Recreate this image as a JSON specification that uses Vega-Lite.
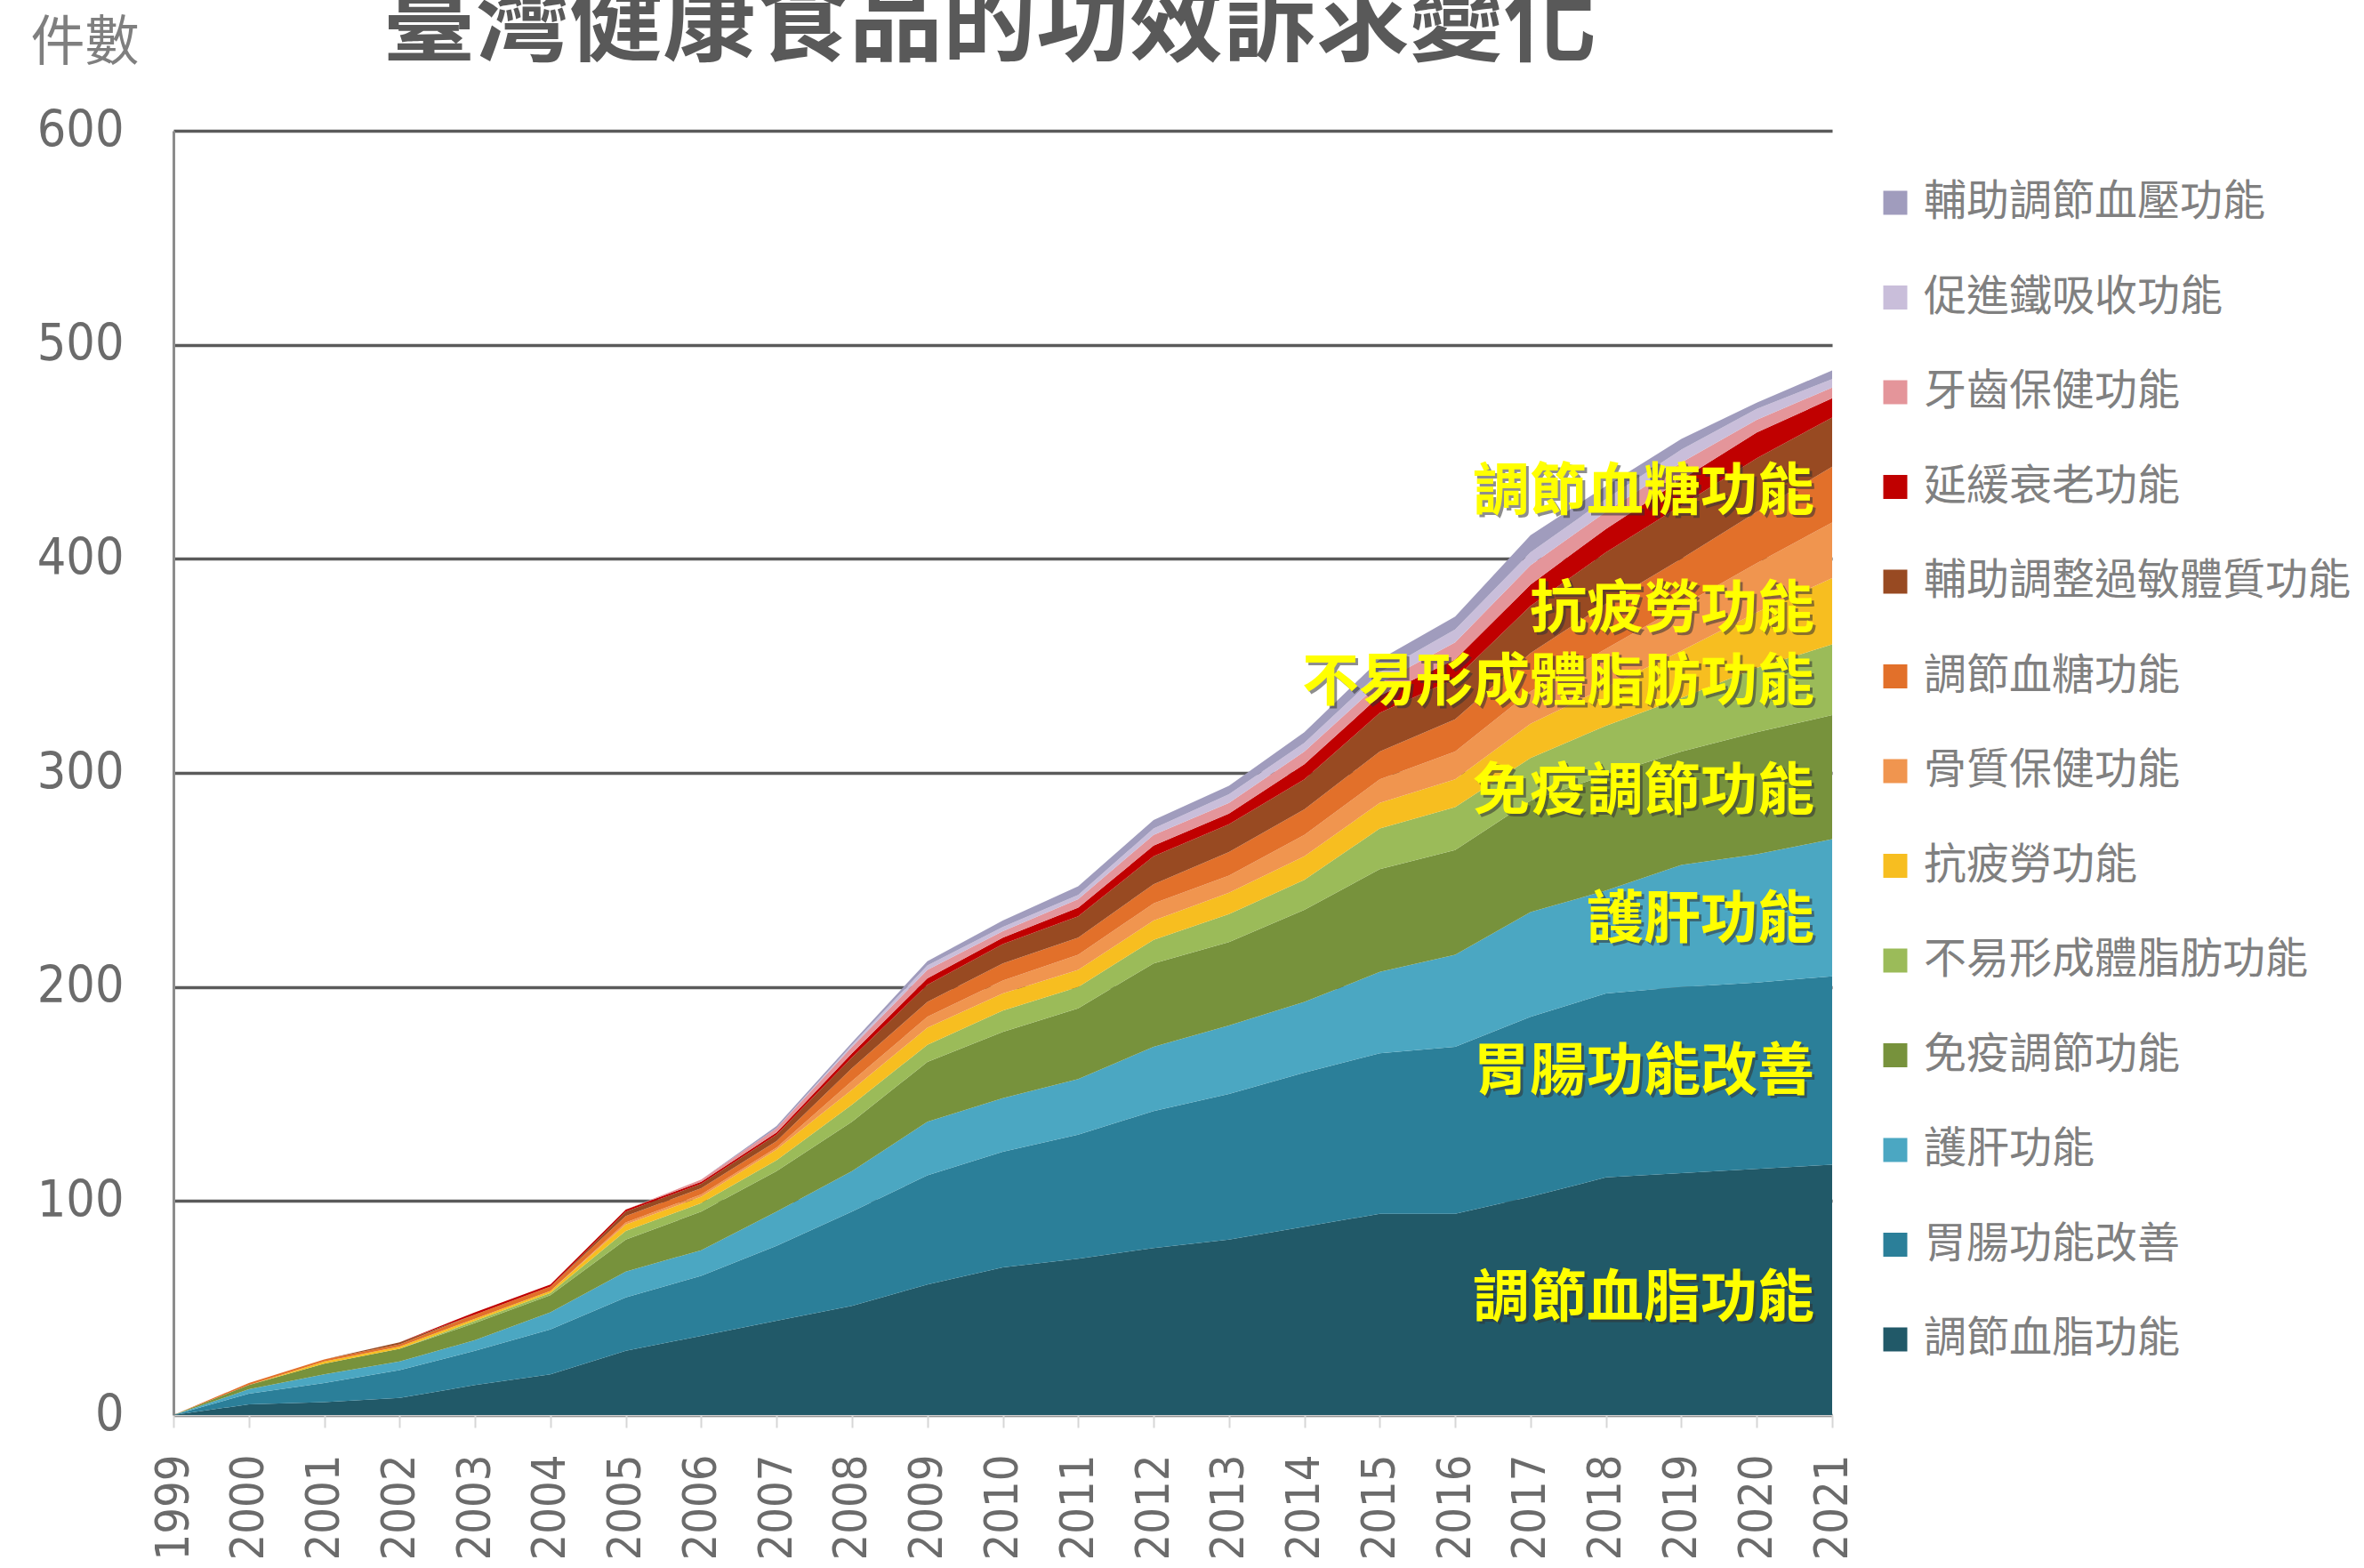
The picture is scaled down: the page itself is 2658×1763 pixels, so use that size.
{
  "$schema": "https://vega.github.io/schema/vega-lite/v6.json",
  "width": 1865,
  "height": 1444,
  "autosize": {"type": "none"},
  "padding": {"left": 195, "top": 147, "right": 598, "bottom": 172},
  "background": "white",
  "title": {
    "text": "臺灣健康食品的功效訴求變化",
    "font": "Noto Sans CJK TC",
    "fontSize": 105,
    "fontWeight": "bold",
    "color": "#595959",
    "anchor": "middle",
    "frame": "group",
    "offset": -64,
    "dx": -15
  },
  "datasets": {
    "kinds": [
      {"series":"調節血脂功能","rank":1},{"series":"胃腸功能改善","rank":2},{"series":"護肝功能","rank":3},{"series":"免疫調節功能","rank":4},{"series":"不易形成體脂肪功能","rank":5},{"series":"抗疲勞功能","rank":6},{"series":"骨質保健功能","rank":7},{"series":"調節血糖功能","rank":8},{"series":"輔助調整過敏體質功能","rank":9},{"series":"延緩衰老功能","rank":10},{"series":"牙齒保健功能","rank":11},{"series":"促進鐵吸收功能","rank":12},{"series":"輔助調節血壓功能","rank":13}
    ],
    "counts": [
      {"year":1999,"series":"調節血脂功能","value":0},{"year":1999,"series":"胃腸功能改善","value":0},{"year":1999,"series":"護肝功能","value":0},{"year":1999,"series":"免疫調節功能","value":0},{"year":1999,"series":"不易形成體脂肪功能","value":0},{"year":1999,"series":"抗疲勞功能","value":0},{"year":1999,"series":"骨質保健功能","value":0},{"year":1999,"series":"調節血糖功能","value":0},{"year":1999,"series":"輔助調整過敏體質功能","value":0},{"year":1999,"series":"延緩衰老功能","value":0},{"year":1999,"series":"牙齒保健功能","value":0},{"year":1999,"series":"促進鐵吸收功能","value":0},{"year":1999,"series":"輔助調節血壓功能","value":0},
      {"year":2000,"series":"調節血脂功能","value":5},{"year":2000,"series":"胃腸功能改善","value":5},{"year":2000,"series":"護肝功能","value":2},{"year":2000,"series":"免疫調節功能","value":2},{"year":2000,"series":"不易形成體脂肪功能","value":0},{"year":2000,"series":"抗疲勞功能","value":0},{"year":2000,"series":"骨質保健功能","value":0},{"year":2000,"series":"調節血糖功能","value":1},{"year":2000,"series":"輔助調整過敏體質功能","value":0},{"year":2000,"series":"延緩衰老功能","value":0},{"year":2000,"series":"牙齒保健功能","value":0},{"year":2000,"series":"促進鐵吸收功能","value":0},{"year":2000,"series":"輔助調節血壓功能","value":0},
      {"year":2001,"series":"調節血脂功能","value":6},{"year":2001,"series":"胃腸功能改善","value":9},{"year":2001,"series":"護肝功能","value":4},{"year":2001,"series":"免疫調節功能","value":5},{"year":2001,"series":"不易形成體脂肪功能","value":0},{"year":2001,"series":"抗疲勞功能","value":1},{"year":2001,"series":"骨質保健功能","value":0},{"year":2001,"series":"調節血糖功能","value":1},{"year":2001,"series":"輔助調整過敏體質功能","value":0},{"year":2001,"series":"延緩衰老功能","value":0},{"year":2001,"series":"牙齒保健功能","value":0},{"year":2001,"series":"促進鐵吸收功能","value":0},{"year":2001,"series":"輔助調節血壓功能","value":0},
      {"year":2002,"series":"調節血脂功能","value":8},{"year":2002,"series":"胃腸功能改善","value":13},{"year":2002,"series":"護肝功能","value":4},{"year":2002,"series":"免疫調節功能","value":6},{"year":2002,"series":"不易形成體脂肪功能","value":0},{"year":2002,"series":"抗疲勞功能","value":1},{"year":2002,"series":"骨質保健功能","value":0},{"year":2002,"series":"調節血糖功能","value":1},{"year":2002,"series":"輔助調整過敏體質功能","value":1},{"year":2002,"series":"延緩衰老功能","value":0},{"year":2002,"series":"牙齒保健功能","value":0},{"year":2002,"series":"促進鐵吸收功能","value":0},{"year":2002,"series":"輔助調節血壓功能","value":0},
      {"year":2003,"series":"調節血脂功能","value":14},{"year":2003,"series":"胃腸功能改善","value":16},{"year":2003,"series":"護肝功能","value":5},{"year":2003,"series":"免疫調節功能","value":8},{"year":2003,"series":"不易形成體脂肪功能","value":1},{"year":2003,"series":"抗疲勞功能","value":1},{"year":2003,"series":"骨質保健功能","value":0},{"year":2003,"series":"調節血糖功能","value":2},{"year":2003,"series":"輔助調整過敏體質功能","value":0},{"year":2003,"series":"延緩衰老功能","value":1},{"year":2003,"series":"牙齒保健功能","value":0},{"year":2003,"series":"促進鐵吸收功能","value":0},{"year":2003,"series":"輔助調節血壓功能","value":0},
      {"year":2004,"series":"調節血脂功能","value":19},{"year":2004,"series":"胃腸功能改善","value":21},{"year":2004,"series":"護肝功能","value":8},{"year":2004,"series":"免疫調節功能","value":8},{"year":2004,"series":"不易形成體脂肪功能","value":1},{"year":2004,"series":"抗疲勞功能","value":1},{"year":2004,"series":"骨質保健功能","value":0},{"year":2004,"series":"調節血糖功能","value":2},{"year":2004,"series":"輔助調整過敏體質功能","value":0},{"year":2004,"series":"延緩衰老功能","value":1},{"year":2004,"series":"牙齒保健功能","value":0},{"year":2004,"series":"促進鐵吸收功能","value":0},{"year":2004,"series":"輔助調節血壓功能","value":0},
      {"year":2005,"series":"調節血脂功能","value":30},{"year":2005,"series":"胃腸功能改善","value":25},{"year":2005,"series":"護肝功能","value":12},{"year":2005,"series":"免疫調節功能","value":15},{"year":2005,"series":"不易形成體脂肪功能","value":4},{"year":2005,"series":"抗疲勞功能","value":3},{"year":2005,"series":"骨質保健功能","value":1},{"year":2005,"series":"調節血糖功能","value":3},{"year":2005,"series":"輔助調整過敏體質功能","value":2},{"year":2005,"series":"延緩衰老功能","value":1},{"year":2005,"series":"牙齒保健功能","value":0},{"year":2005,"series":"促進鐵吸收功能","value":0},{"year":2005,"series":"輔助調節血壓功能","value":0},
      {"year":2006,"series":"調節血脂功能","value":37},{"year":2006,"series":"胃腸功能改善","value":28},{"year":2006,"series":"護肝功能","value":12},{"year":2006,"series":"免疫調節功能","value":18},{"year":2006,"series":"不易形成體脂肪功能","value":4},{"year":2006,"series":"抗疲勞功能","value":3},{"year":2006,"series":"骨質保健功能","value":1},{"year":2006,"series":"調節血糖功能","value":3},{"year":2006,"series":"輔助調整過敏體質功能","value":2},{"year":2006,"series":"延緩衰老功能","value":1},{"year":2006,"series":"牙齒保健功能","value":1},{"year":2006,"series":"促進鐵吸收功能","value":0},{"year":2006,"series":"輔助調節血壓功能","value":0},
      {"year":2007,"series":"調節血脂功能","value":44},{"year":2007,"series":"胃腸功能改善","value":35},{"year":2007,"series":"護肝功能","value":16},{"year":2007,"series":"免疫調節功能","value":19},{"year":2007,"series":"不易形成體脂肪功能","value":5},{"year":2007,"series":"抗疲勞功能","value":5},{"year":2007,"series":"骨質保健功能","value":1},{"year":2007,"series":"調節血糖功能","value":3},{"year":2007,"series":"輔助調整過敏體質功能","value":3},{"year":2007,"series":"延緩衰老功能","value":1},{"year":2007,"series":"牙齒保健功能","value":2},{"year":2007,"series":"促進鐵吸收功能","value":0},{"year":2007,"series":"輔助調節血壓功能","value":1},
      {"year":2008,"series":"調節血脂功能","value":51},{"year":2008,"series":"胃腸功能改善","value":44},{"year":2008,"series":"護肝功能","value":19},{"year":2008,"series":"免疫調節功能","value":23},{"year":2008,"series":"不易形成體脂肪功能","value":8},{"year":2008,"series":"抗疲勞功能","value":7},{"year":2008,"series":"骨質保健功能","value":4},{"year":2008,"series":"調節血糖功能","value":6},{"year":2008,"series":"輔助調整過敏體質功能","value":5},{"year":2008,"series":"延緩衰老功能","value":2},{"year":2008,"series":"牙齒保健功能","value":3},{"year":2008,"series":"促進鐵吸收功能","value":1},{"year":2008,"series":"輔助調節血壓功能","value":1},
      {"year":2009,"series":"調節血脂功能","value":61},{"year":2009,"series":"胃腸功能改善","value":51},{"year":2009,"series":"護肝功能","value":25},{"year":2009,"series":"免疫調節功能","value":28},{"year":2009,"series":"不易形成體脂肪功能","value":8},{"year":2009,"series":"抗疲勞功能","value":8},{"year":2009,"series":"骨質保健功能","value":5},{"year":2009,"series":"調節血糖功能","value":7},{"year":2009,"series":"輔助調整過敏體質功能","value":8},{"year":2009,"series":"延緩衰老功能","value":3},{"year":2009,"series":"牙齒保健功能","value":4},{"year":2009,"series":"促進鐵吸收功能","value":2},{"year":2009,"series":"輔助調節血壓功能","value":2},
      {"year":2010,"series":"調節血脂功能","value":69},{"year":2010,"series":"胃腸功能改善","value":54},{"year":2010,"series":"護肝功能","value":25},{"year":2010,"series":"免疫調節功能","value":31},{"year":2010,"series":"不易形成體脂肪功能","value":10},{"year":2010,"series":"抗疲勞功能","value":8},{"year":2010,"series":"骨質保健功能","value":6},{"year":2010,"series":"調節血糖功能","value":8},{"year":2010,"series":"輔助調整過敏體質功能","value":9},{"year":2010,"series":"延緩衰老功能","value":3},{"year":2010,"series":"牙齒保健功能","value":3},{"year":2010,"series":"促進鐵吸收功能","value":2},{"year":2010,"series":"輔助調節血壓功能","value":3},
      {"year":2011,"series":"調節血脂功能","value":73},{"year":2011,"series":"胃腸功能改善","value":58},{"year":2011,"series":"護肝功能","value":26},{"year":2011,"series":"免疫調節功能","value":33},{"year":2011,"series":"不易形成體脂肪功能","value":10},{"year":2011,"series":"抗疲勞功能","value":8},{"year":2011,"series":"骨質保健功能","value":7},{"year":2011,"series":"調節血糖功能","value":8},{"year":2011,"series":"輔助調整過敏體質功能","value":10},{"year":2011,"series":"延緩衰老功能","value":4},{"year":2011,"series":"牙齒保健功能","value":4},{"year":2011,"series":"促進鐵吸收功能","value":2},{"year":2011,"series":"輔助調節血壓功能","value":4},
      {"year":2012,"series":"調節血脂功能","value":78},{"year":2012,"series":"胃腸功能改善","value":64},{"year":2012,"series":"護肝功能","value":30},{"year":2012,"series":"免疫調節功能","value":39},{"year":2012,"series":"不易形成體脂肪功能","value":11},{"year":2012,"series":"抗疲勞功能","value":9},{"year":2012,"series":"骨質保健功能","value":8},{"year":2012,"series":"調節血糖功能","value":9},{"year":2012,"series":"輔助調整過敏體質功能","value":13},{"year":2012,"series":"延緩衰老功能","value":5},{"year":2012,"series":"牙齒保健功能","value":5},{"year":2012,"series":"促進鐵吸收功能","value":3},{"year":2012,"series":"輔助調節血壓功能","value":4},
      {"year":2013,"series":"調節血脂功能","value":82},{"year":2013,"series":"胃腸功能改善","value":68},{"year":2013,"series":"護肝功能","value":32},{"year":2013,"series":"免疫調節功能","value":39},{"year":2013,"series":"不易形成體脂肪功能","value":13},{"year":2013,"series":"抗疲勞功能","value":10},{"year":2013,"series":"骨質保健功能","value":8},{"year":2013,"series":"調節血糖功能","value":11},{"year":2013,"series":"輔助調整過敏體質功能","value":13},{"year":2013,"series":"延緩衰老功能","value":5},{"year":2013,"series":"牙齒保健功能","value":5},{"year":2013,"series":"促進鐵吸收功能","value":4},{"year":2013,"series":"輔助調節血壓功能","value":4},
      {"year":2014,"series":"調節血脂功能","value":88},{"year":2014,"series":"胃腸功能改善","value":72},{"year":2014,"series":"護肝功能","value":33},{"year":2014,"series":"免疫調節功能","value":43},{"year":2014,"series":"不易形成體脂肪功能","value":14},{"year":2014,"series":"抗疲勞功能","value":11},{"year":2014,"series":"骨質保健功能","value":10},{"year":2014,"series":"調節血糖功能","value":12},{"year":2014,"series":"輔助調整過敏體質功能","value":14},{"year":2014,"series":"延緩衰老功能","value":7},{"year":2014,"series":"牙齒保健功能","value":6},{"year":2014,"series":"促進鐵吸收功能","value":4},{"year":2014,"series":"輔助調節血壓功能","value":5},
      {"year":2015,"series":"調節血脂功能","value":94},{"year":2015,"series":"胃腸功能改善","value":75},{"year":2015,"series":"護肝功能","value":38},{"year":2015,"series":"免疫調節功能","value":48},{"year":2015,"series":"不易形成體脂肪功能","value":19},{"year":2015,"series":"抗疲勞功能","value":12},{"year":2015,"series":"骨質保健功能","value":11},{"year":2015,"series":"調節血糖功能","value":13},{"year":2015,"series":"輔助調整過敏體質功能","value":18},{"year":2015,"series":"延緩衰老功能","value":8},{"year":2015,"series":"牙齒保健功能","value":6},{"year":2015,"series":"促進鐵吸收功能","value":5},{"year":2015,"series":"輔助調節血壓功能","value":6},
      {"year":2016,"series":"調節血脂功能","value":94},{"year":2016,"series":"胃腸功能改善","value":78},{"year":2016,"series":"護肝功能","value":43},{"year":2016,"series":"免疫調節功能","value":49},{"year":2016,"series":"不易形成體脂肪功能","value":20},{"year":2016,"series":"抗疲勞功能","value":13},{"year":2016,"series":"骨質保健功能","value":13},{"year":2016,"series":"調節血糖功能","value":15},{"year":2016,"series":"輔助調整過敏體質功能","value":19},{"year":2016,"series":"延緩衰老功能","value":9},{"year":2016,"series":"牙齒保健功能","value":8},{"year":2016,"series":"促進鐵吸收功能","value":6},{"year":2016,"series":"輔助調節血壓功能","value":6},
      {"year":2017,"series":"調節血脂功能","value":102},{"year":2017,"series":"胃腸功能改善","value":84},{"year":2017,"series":"護肝功能","value":49},{"year":2017,"series":"免疫調節功能","value":52},{"year":2017,"series":"不易形成體脂肪功能","value":20},{"year":2017,"series":"抗疲勞功能","value":16},{"year":2017,"series":"骨質保健功能","value":15},{"year":2017,"series":"調節血糖功能","value":18},{"year":2017,"series":"輔助調整過敏體質功能","value":22},{"year":2017,"series":"延緩衰老功能","value":10},{"year":2017,"series":"牙齒保健功能","value":9},{"year":2017,"series":"促進鐵吸收功能","value":6},{"year":2017,"series":"輔助調節血壓功能","value":8},
      {"year":2018,"series":"調節血脂功能","value":111},{"year":2018,"series":"胃腸功能改善","value":86},{"year":2018,"series":"護肝功能","value":48},{"year":2018,"series":"免疫調節功能","value":54},{"year":2018,"series":"不易形成體脂肪功能","value":23},{"year":2018,"series":"抗疲勞功能","value":18},{"year":2018,"series":"骨質保健功能","value":18},{"year":2018,"series":"調節血糖功能","value":21},{"year":2018,"series":"輔助調整過敏體質功能","value":24},{"year":2018,"series":"延緩衰老功能","value":11},{"year":2018,"series":"牙齒保健功能","value":8},{"year":2018,"series":"促進鐵吸收功能","value":6},{"year":2018,"series":"輔助調節血壓功能","value":6},
      {"year":2019,"series":"調節血脂功能","value":113},{"year":2019,"series":"胃腸功能改善","value":87},{"year":2019,"series":"護肝功能","value":57},{"year":2019,"series":"免疫調節功能","value":53},{"year":2019,"series":"不易形成體脂肪功能","value":25},{"year":2019,"series":"抗疲勞功能","value":22},{"year":2019,"series":"骨質保健功能","value":21},{"year":2019,"series":"調節血糖功能","value":22},{"year":2019,"series":"輔助調整過敏體質功能","value":25},{"year":2019,"series":"延緩衰老功能","value":12},{"year":2019,"series":"牙齒保健功能","value":8},{"year":2019,"series":"促進鐵吸收功能","value":6},{"year":2019,"series":"輔助調節血壓功能","value":5},
      {"year":2020,"series":"調節血脂功能","value":115},{"year":2020,"series":"胃腸功能改善","value":87},{"year":2020,"series":"護肝功能","value":60},{"year":2020,"series":"免疫調節功能","value":57},{"year":2020,"series":"不易形成體脂肪功能","value":30},{"year":2020,"series":"抗疲勞功能","value":26},{"year":2020,"series":"骨質保健功能","value":23},{"year":2020,"series":"調節血糖功能","value":24},{"year":2020,"series":"輔助調整過敏體質功能","value":25},{"year":2020,"series":"延緩衰老功能","value":12},{"year":2020,"series":"牙齒保健功能","value":6},{"year":2020,"series":"促進鐵吸收功能","value":5},{"year":2020,"series":"輔助調節血壓功能","value":3},
      {"year":2021,"series":"調節血脂功能","value":117},{"year":2021,"series":"胃腸功能改善","value":88},{"year":2021,"series":"護肝功能","value":64},{"year":2021,"series":"免疫調節功能","value":58},{"year":2021,"series":"不易形成體脂肪功能","value":33},{"year":2021,"series":"抗疲勞功能","value":31},{"year":2021,"series":"骨質保健功能","value":26},{"year":2021,"series":"調節血糖功能","value":26},{"year":2021,"series":"輔助調整過敏體質功能","value":23},{"year":2021,"series":"延緩衰老功能","value":9},{"year":2021,"series":"牙齒保健功能","value":5},{"year":2021,"series":"促進鐵吸收功能","value":4},{"year":2021,"series":"輔助調節血壓功能","value":4}
    ],
    "notes": [
      {"label":"調節血糖功能","year":2021,"value":431},
      {"label":"抗疲勞功能","year":2021,"value":376},
      {"label":"不易形成體脂肪功能","year":2021,"value":342},
      {"label":"免疫調節功能","year":2021,"value":291},
      {"label":"護肝功能","year":2021,"value":231},
      {"label":"胃腸功能改善","year":2021,"value":160},
      {"label":"調節血脂功能","year":2021,"value":54}
    ]
  },
  "encoding": {
    "x": {
      "field": "year", "type": "quantitative",
      "scale": {"domain": [1999, 2021], "nice": false, "zero": false},
      "axis": {
        "title": null,
        "values": [1999,2000,2001,2002,2003,2004,2005,2006,2007,2008,2009,2010,2011,2012,2013,2014,2015,2016,2017,2018,2019,2020,2021],
        "format": "d",
        "labelAngle": -90,
        "labelAlign": "right",
        "labelBaseline": "middle",
        "labelFont": "Liberation Sans Narrow, DejaVu Sans Condensed, Liberation Sans",
        "labelFontSize": 52,
        "labelColor": "#6b6b6b",
        "labelPadding": 30,
        "labelOverlap": false,
        "labelFlush": false,
        "grid": false,
        "domain": true,
        "domainColor": "#d0d0d0",
        "domainWidth": 2,
        "ticks": true,
        "tickColor": "#d6d6d6",
        "tickSize": 14,
        "tickWidth": 2
      }
    },
    "y": {
      "field": "value", "type": "quantitative",
      "scale": {"domain": [0, 600], "nice": false},
      "axis": {
        "title": "件數",
        "titleAngle": 0,
        "titleAlign": "center",
        "titleBaseline": "alphabetic",
        "titleX": -100,
        "titleY": -80,
        "titleFont": "Noto Sans CJK TC",
        "titleFontSize": 61,
        "titleFontWeight": "normal",
        "titleColor": "#7f7f7f",
        "values": [0, 100, 200, 300, 400, 500, 600],
        "labelFont": "Liberation Sans Narrow, DejaVu Sans Condensed, Liberation Sans",
        "labelFontSize": 57,
        "labelColor": "#6b6b6b",
        "labelPadding": 56,
        "labelFlush": false,
        "ticks": false,
        "tickSize": 0,
        "grid": true,
        "gridColor": "#5a5a5a",
        "gridWidth": 3.5,
        "domain": true,
        "domainColor": "#8c8c8c",
        "domainWidth": 3
      }
    }
  },
  "layer": [
    {
      "data": {"name": "counts"},
      "transform": [
        {"lookup": "series", "from": {"data": {"name": "kinds"}, "key": "series", "fields": ["rank"]}}
      ],
      "mark": {"type": "area", "interpolate": "linear", "opacity": 1},
      "encoding": {
        "y": {"field": "value", "type": "quantitative", "stack": "zero"},
        "order": {"field": "rank", "type": "quantitative", "sort": "ascending"},
        "color": {
          "field": "series", "type": "nominal",
          "scale": {
            "domain": ["調節血脂功能","胃腸功能改善","護肝功能","免疫調節功能","不易形成體脂肪功能","抗疲勞功能","骨質保健功能","調節血糖功能","輔助調整過敏體質功能","延緩衰老功能","牙齒保健功能","促進鐵吸收功能","輔助調節血壓功能"],
            "range": ["#215968","#2b7f99","#4ba7c2","#77923c","#9bbb59","#f7be20","#f0954f","#e2702a","#984a22","#c00000","#e4959a","#c9beda","#a09cbd"]
          },
          "legend": {
            "orient": "none",
            "legendX": 1912,
            "legendY": 57,
            "title": null,
            "padding": 0,
            "values": ["輔助調節血壓功能","促進鐵吸收功能","牙齒保健功能","延緩衰老功能","輔助調整過敏體質功能","調節血糖功能","骨質保健功能","抗疲勞功能","不易形成體脂肪功能","免疫調節功能","護肝功能","胃腸功能改善","調節血脂功能"],
            "symbolType": "square",
            "symbolSize": 729,
            "symbolStrokeWidth": 0,
            "symbolOpacity": 1,
            "labelFont": "Noto Sans CJK TC",
            "labelFontSize": 48,
            "labelColor": "#808080",
            "labelOffset": 8,
            "labelLimit": 700,
            "rowPadding": 58.5
          }
        }
      }
    },
    {
      "data": {"name": "notes"},
      "mark": {"type": "text", "align": "right", "baseline": "middle", "font": "Noto Sans CJK TC", "fontSize": 64, "fontWeight": "bold", "color": "#333333", "opacity": 0.55, "dx": -17, "dy": 3},
      "encoding": {
        "text": {"field": "label"}
      }
    },
    {
      "data": {"name": "notes"},
      "mark": {"type": "text", "align": "right", "baseline": "middle", "font": "Noto Sans CJK TC", "fontSize": 64, "fontWeight": "bold", "color": "#ffff00", "dx": -20},
      "encoding": {
        "text": {"field": "label"}
      }
    }
  ],
  "config": {
    "view": {"stroke": null}
  }
}
